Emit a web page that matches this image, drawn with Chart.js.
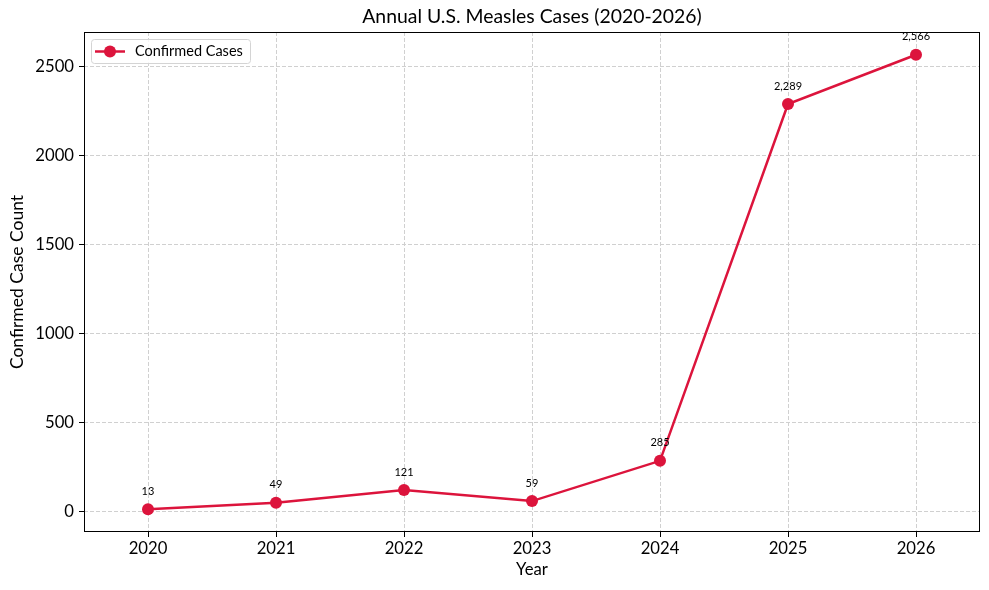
<!DOCTYPE html>
<html>
<head>
<meta charset="utf-8">
<script src="https://cdn.jsdelivr.net/npm/chart.js@4.4.1/dist/chart.umd.min.js"></script>
<style>
  html, body { margin: 0; padding: 0; background: #fff; }
  #wrap { width: 989px; height: 590px; }
</style>
</head>
<body>
<div id="wrap"><canvas id="casesChart"></canvas></div>
<script>
const years = [2020, 2021, 2022, 2023, 2024, 2025, 2026];
const confirmedCases = [13, 49, 121, 59, 285, 2289, 2566];
const yTickValues = [0, 500, 1000, 1500, 2000, 2500];
const chartTitle = "Annual U.S. Measles Cases (2020-2026)";

const lineColor = "#DC143C";
const fontFamily = "Lato, 'Open Sans', sans-serif";

// title over plot area, axis frame, legend, value labels
const extrasPlugin = {
  id: "extras",
  afterDatasetsDraw(chart) {
    const { ctx, chartArea } = chart;
    const meta = chart.getDatasetMeta(0);

    // title, centred on the plot area like matplotlib
    ctx.save();
    ctx.font = "19.4px " + fontFamily;
    ctx.fillStyle = "#000";
    ctx.textAlign = "center";
    ctx.textBaseline = "middle";
    ctx.fillText(chartTitle, (chartArea.left + chartArea.right) / 2, 17);
    ctx.restore();

    // value labels above each point
    ctx.save();
    ctx.font = "11px " + fontFamily;
    ctx.fillStyle = "#000";
    ctx.textAlign = "center";
    ctx.textBaseline = "middle";
    meta.data.forEach((pt, i) => {
      ctx.fillText(confirmedCases[i].toLocaleString("en-US"), pt.x, pt.y - 18);
    });
    ctx.restore();

    // frame
    ctx.save();
    ctx.strokeStyle = "#000";
    ctx.lineWidth = 1;
    ctx.strokeRect(Math.round(chartArea.left) + 0.5, Math.round(chartArea.top) + 0.5,
      Math.round(chartArea.right - chartArea.left) - 1, Math.round(chartArea.bottom - chartArea.top) - 1);
    ctx.restore();

    // legend
    const lx = chartArea.left + 7, ly = chartArea.top + 7;
    const lw = 159, lh = 24;
    ctx.save();
    ctx.fillStyle = "rgba(255,255,255,0.8)";
    ctx.strokeStyle = "#d4d4d4";
    ctx.lineWidth = 1;
    ctx.beginPath();
    ctx.roundRect(lx + 0.5, ly + 0.5, lw, lh, 3);
    ctx.fill();
    ctx.stroke();
    const my = ly + lh / 2 + 0.5;
    ctx.strokeStyle = lineColor;
    ctx.lineWidth = 2.5;
    ctx.beginPath();
    ctx.moveTo(lx + 4, my);
    ctx.lineTo(lx + 34, my);
    ctx.stroke();
    ctx.fillStyle = lineColor;
    ctx.beginPath();
    ctx.arc(lx + 19, my, 6, 0, Math.PI * 2);
    ctx.fill();
    ctx.fillStyle = "#000";
    ctx.font = "14.5px " + fontFamily;
    ctx.textBaseline = "middle";
    ctx.textAlign = "left";
    ctx.fillText("Confirmed Cases", lx + 44, my);
    ctx.restore();
  },
};

const gridOpts = {
  color: "#d0d0d0",
  lineWidth: 1,
  tickBorderDash: [],
  tickColor: "#000",
  tickLength: 5,
};

new Chart(document.getElementById("casesChart"), {
  type: "line",
  data: {
    datasets: [
      {
        label: "Confirmed Cases",
        data: years.map((y, i) => ({ x: y, y: confirmedCases[i] })),
        borderColor: lineColor,
        backgroundColor: lineColor,
        borderWidth: 2.5,
        pointRadius: 6,
        pointHoverRadius: 6,
        pointBorderWidth: 0,
        tension: 0,
      },
    ],
  },
  options: {
    responsive: true,
    maintainAspectRatio: false,
    animation: false,
    devicePixelRatio: 1,
    layout: { padding: { left: 0, right: 9, top: 32, bottom: 0 } },
    plugins: {
      legend: { display: false },
      tooltip: { enabled: false },
      title: { display: false },
    },
    scales: {
      x: {
        type: "linear",
        min: 2019.5,
        max: 2026.5,
        afterBuildTicks: (scale) => {
          scale.ticks = years.map((v) => ({ value: v }));
        },
        afterFit: (scale) => {
          scale.height = 58;
        },
        ticks: {
          color: "#000",
          font: { family: fontFamily, size: 16.7 },
          padding: 2,
          callback: (v) => String(v),
        },
        grid: gridOpts,
        border: { display: false, dash: [4, 2] },
        title: {
          display: true,
          text: "Year",
          color: "#000",
          font: { family: fontFamily, size: 16.7 },
          padding: { top: 0, bottom: 10 },
        },
      },
      y: {
        min: -114.65,
        max: 2693.65,
        afterBuildTicks: (scale) => {
          scale.ticks = yTickValues.map((v) => ({ value: v }));
        },
        afterFit: (scale) => {
          scale.width = 84;
        },
        ticks: {
          color: "#000",
          font: { family: fontFamily, size: 16.7 },
          padding: 5,
          callback: (v) => String(v),
        },
        grid: gridOpts,
        border: { display: false, dash: [4, 2] },
        title: {
          display: true,
          text: "Confirmed Case Count",
          color: "#000",
          font: { family: fontFamily, size: 17.5 },
          padding: { top: 7, bottom: 0 },
        },
      },
    },
  },
  plugins: [extrasPlugin],
});
</script>
</body>
</html>
